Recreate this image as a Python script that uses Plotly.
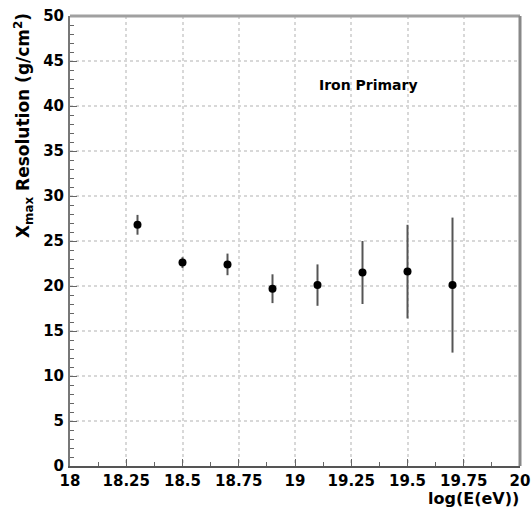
import plotly.graph_objects as go

energy = [18.3, 18.5, 18.7, 18.9, 19.1, 19.3, 19.5, 19.7]
resolution = [26.8, 22.6, 22.4, 19.7, 20.1, 21.5, 21.6, 20.1]
res_err = [1.1, 0.6, 1.2, 1.6, 2.3, 3.5, 5.2, 7.5]
x_ticks = [18, 18.25, 18.5, 18.75, 19, 19.25, 19.5, 19.75, 20]
x_tick_text = ["18", "18.25", "18.5", "18.75", "19", "19.25", "19.5", "19.75", "20"]
y_ticks = [0, 5, 10, 15, 20, 25, 30, 35, 40, 45, 50]

FONT = "DejaVu Sans, sans-serif"

fig = go.Figure()
fig.add_trace(go.Scatter(
    x=energy, y=resolution, mode="markers",
    marker=dict(color="black", size=8),
    error_y=dict(type="data", array=res_err, color="#555555", thickness=2, width=0),
    showlegend=False,
))

tickfont = dict(family=FONT, size=15, color="black", weight="bold")

fig.update_layout(
    width=531, height=508,
    margin=dict(l=70, r=11, t=16, b=42, autoexpand=False),
    paper_bgcolor="white", plot_bgcolor="white",
    font=dict(family=FONT, size=15, color="black"),
    xaxis=dict(
        range=[18, 20], tickvals=x_ticks, ticktext=x_tick_text, tickfont=tickfont,
        ticks="inside", ticklen=7, tickcolor="#666", tickwidth=1, automargin=False,
        showline=True, linecolor="#555", linewidth=2, mirror=False,
        showgrid=True, gridcolor="#d8d8d8", griddash="dot", gridwidth=1.5,
        zeroline=False, ticklabelstandoff=0,
        minor=dict(dtick=0.125, tick0=18, ticks="inside", ticklen=4, tickcolor="#666", showgrid=False),
    ),
    yaxis=dict(
        range=[0, 50], tickvals=y_ticks, tickfont=tickfont,
        ticks="inside", ticklen=7, tickcolor="#666", tickwidth=1, automargin=False,
        showline=True, linecolor="#777", linewidth=2, mirror=False,
        showgrid=True, gridcolor="#d8d8d8", griddash="dot", gridwidth=1.5,
        zeroline=False, ticklabelstandoff=1,
        minor=dict(dtick=1, ticks="inside", ticklen=4, tickcolor="#666", showgrid=False),
    ),
    shapes=[
        dict(type="line", xref="paper", yref="paper", x0=0, x1=1, y0=1, y1=1,
             line=dict(color="#a0a0a0", width=3)),
        dict(type="line", xref="paper", yref="paper", x0=1, x1=1, y0=0, y1=1,
             line=dict(color="#888888", width=3)),
    ],
    annotations=[
        dict(text="Iron Primary", x=19.098, y=42.3, xref="x", yref="y",
             xanchor="left", yanchor="middle", showarrow=False,
             font=dict(family=FONT, size=14, color="black", weight="bold")),
        dict(text="X<sub>max</sub> Resolution (g/cm<sup>2</sup>)", textangle=-90,
             x=-47 / 450, y=1.01, xref="paper", yref="paper",
             xanchor="center", yanchor="top", showarrow=False,
             font=dict(family=FONT, size=17, color="black", weight="bold")),
        dict(text="log(E(eV))", x=1, y=-22 / 450, xref="paper", yref="paper",
             xanchor="right", yanchor="top", showarrow=False, borderpad=0,
             font=dict(family=FONT, size=16, color="black", weight="bold")),
    ],
)

fig.write_html("out.html")
